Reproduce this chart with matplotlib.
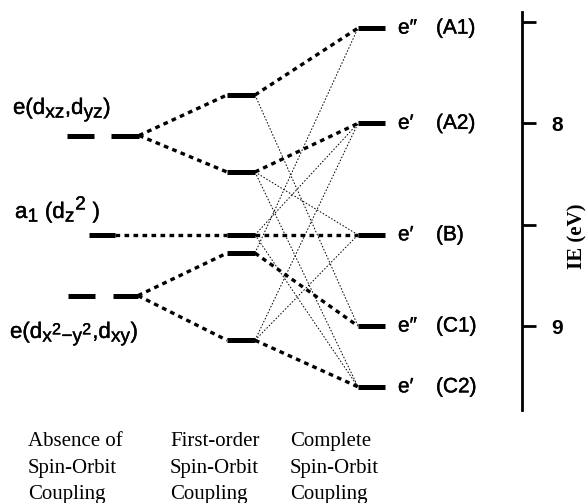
import matplotlib
matplotlib.use("Agg")
import matplotlib.pyplot as plt
import matplotlib.patheffects as pe
import matplotlib._mathtext as _mt

_mt.SHRINK_FACTOR = 0.85   # larger sub/superscripts, as in the reference

# ---------------- data ----------------
ie_ticks = [7.5, 8.0, 8.5, 9.0]
ie_tick_labels = ["", "8", "", "9"]

left_levels = [8.06, 8.55, 8.85]
left_labels = [
    r"e(d$_\mathregular{xz}$,d$_\mathregular{yz}$)",
    r"a$_\mathregular{1}$ (d$_\mathregular{z}$$^\mathregular{2}$ )",
    r"e(d$_{\mathregular{x}^{\mathregular{2}}\mathregular{-y}^{\mathregular{2}}}$,d$_\mathregular{xy}$)",
]
first_order = [7.86, 8.24, 8.55, 8.64, 9.07]
complete = [7.53, 8.00, 8.55, 9.00, 9.30]
complete_sym = ["e\u2033", "e\u2032", "e\u2032", "e\u2033", "e\u2032"]
complete_tags = ["(A1)", "(A2)", "(B)", "(C1)", "(C2)"]

left_to_first = [(0, 0), (0, 1), (1, 2), (2, 3), (2, 4)]
first_to_complete = [(0, 0), (1, 1), (2, 2), (3, 3), (4, 4)]
mixing = [(0, 3), (3, 0), (1, 2), (1, 4), (2, 1), (2, 4), (4, 1), (4, 2)]

column_titles = [
    ["Absence of", "Spin-Orbit", "Coupling"],
    ["First-order", "Spin-Orbit", "Coupling"],
    ["Complete", "Spin-Orbit", "Coupling"],
]
axis_label = "IE (eV)"

# ---------------- layout ----------------
W, H = 586, 503
plt.rcParams["font.family"] = ["Liberation Sans", "DejaVu Sans"]

Y0, PX_PER_EV = 22.0, 202.7          # pixel row of 7.5 eV and scale


def ie_of(py):
    return 7.5 + (py - Y0) / PX_PER_EV


ylim = (ie_of(H), ie_of(0))

fig = plt.figure(figsize=(W / 100, H / 100), dpi=100)
ax = fig.add_axes([0, 0, 1, 1])
ax.set_xlim(0, W)
ax.set_ylim(*ylim)
ax.axis("off")

# column geometry (pixels)
left_segments = [[(67, 94), (111, 139)], [(89, 115)], [(68, 95), (113, 138)]]
mid_x = (227, 255)
right_x = (358, 385)

bar_kw = dict(color="black", lw=3.6, solid_capstyle="butt")
thick_kw = dict(color="black", lw=2.4, linestyle=(0, (1.4, 1.3)), dash_capstyle="butt")
thin_kw = dict(color="black", lw=0.7, linestyle=(0, (1.6, 1.8)))
heavy = [pe.withStroke(linewidth=0.3, foreground="black")]

# left levels
for lvl, segs in zip(left_levels, left_segments):
    for x0, x1 in segs:
        ax.plot([x0, x1], [lvl, lvl], **bar_kw)

# first-order levels
for lvl in first_order:
    ax.plot(list(mid_x), [lvl, lvl], **bar_kw)

# complete levels
for lvl in complete:
    ax.plot(list(right_x), [lvl, lvl], **bar_kw)

# correlation lines
for i, j in left_to_first:
    x_start = left_segments[i][-1][1]
    ax.plot([x_start, mid_x[0]], [left_levels[i], first_order[j]], **thick_kw)
for i, j in first_to_complete:
    ax.plot([mid_x[1], right_x[0]], [first_order[i], complete[j]], **thick_kw)
for i, j in mixing:
    ax.plot([mid_x[1], right_x[0]], [first_order[i], complete[j]], **thin_kw)

# left labels (x, baseline pixel row)
left_label_pos = [(13, 114), (15, 218), (10, 338)]
for (x, py), txt in zip(left_label_pos, left_labels):
    ax.text(x, ie_of(py), txt, fontsize=16, ha="left", va="baseline",
            path_effects=heavy)

# right labels
for lvl, s, t in zip(complete, complete_sym, complete_tags):
    ax.text(398, lvl, s, fontsize=15, ha="left", va="center", path_effects=heavy)
    ax.text(436, lvl, t, fontsize=15, ha="left", va="center", path_effects=heavy)

# bottom column titles
title_x = [28, 170, 290]
title_rows = [446, 473, 499]
for x, lines in zip(title_x, column_titles):
    for py, line in zip(title_rows, lines):
        ax.text(x, ie_of(py), line, fontsize=15, family="Liberation Serif",
                ha="left", va="baseline")

# IE axis
ax2 = fig.add_axes([0, 0, 522 / W, 1])
ax2.set_ylim(*ylim)
ax2.patch.set_alpha(0)
for side in ("left", "top", "bottom"):
    ax2.spines[side].set_visible(False)
ax2.spines["right"].set_linewidth(2.0)
ax2.spines["right"].set_bounds(ie_of(410), ie_of(12))
ax2.set_xticks([])
ax2.yaxis.tick_right()
ax2.set_yticks(ie_ticks)
ax2.set_yticklabels(ie_tick_labels, fontsize=15, fontweight="bold")
ax2.tick_params(axis="y", direction="out", length=10, width=2.0, pad=11)
ax.text(577, ie_of(236), axis_label, rotation=90, fontsize=15,
        family="Liberation Serif", fontweight="bold", ha="center", va="center")

fig.savefig("out.png", dpi=100)
